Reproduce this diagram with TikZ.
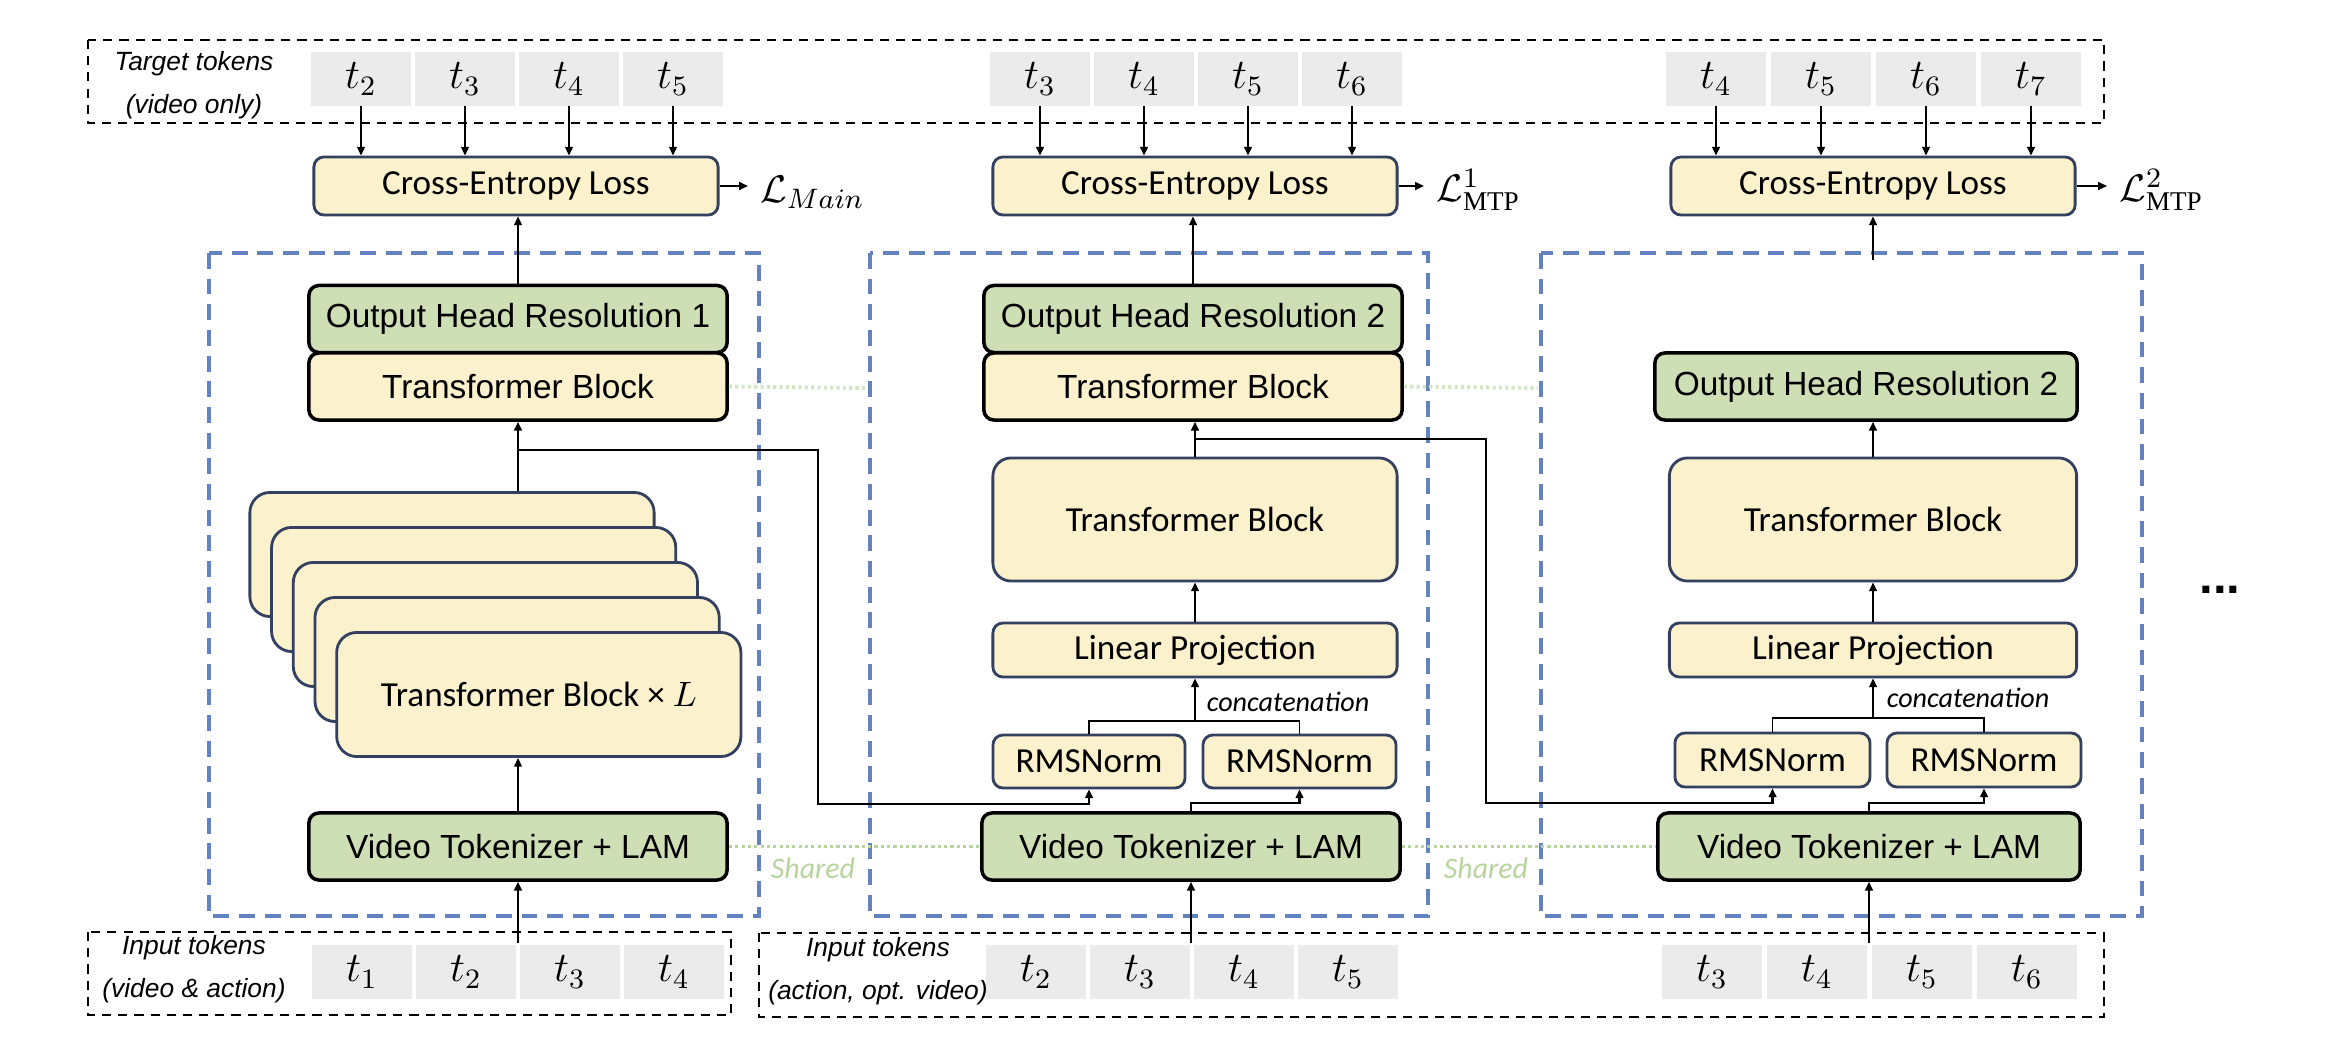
\documentclass[tikz,border=0pt]{standalone}
\usepackage{fontspec}
\setmainfont{Liberation Sans}
\setmathrm{Liberation Serif}
\newfontfamily\calib{Carlito}
\usetikzlibrary{arrows.meta}

\definecolor{boxyellow}{RGB}{251,241,204}
\definecolor{boxgreen}{RGB}{206,223,182}
\definecolor{boxnavy}{RGB}{52,64,96}
\definecolor{tokgray}{RGB}{235,235,235}
\definecolor{dashblue}{RGB}{98,130,192}
\definecolor{sharegreen}{RGB}{183,212,158}

\begin{document}
\begin{tikzpicture}[x=0.01cm,y=-0.01cm,
    arr/.style={-{Triangle[length=2.5pt,width=2.2pt]},line width=0.6pt},
    ybox/.style={draw=boxnavy,fill=boxyellow,line width=0.8pt,rounded corners=0.1cm,inner sep=0pt,font=\calib\fontsize{10}{12}\selectfont},
    hbox/.style={draw=black,line width=1pt,rounded corners=0.1cm,inner sep=0pt,minimum width=4.18cm,minimum height=0.67cm,font=\fontsize{9.5}{11}\selectfont},
    tok/.style={fill=tokgray,minimum width=1cm,minimum height=0.53cm,inner sep=0pt,font=\fontsize{11.5}{13}\selectfont},
    frame/.style={draw=dashblue,line width=1.1pt,dash pattern=on 4.5pt off 2.8pt},
    tokframe/.style={draw=black,line width=0.7pt,dash pattern=on 2.6pt off 2pt},
    lbl/.style={align=center,font=\itshape\fontsize{7.5}{12.2}\selectfont},
    shared/.style={draw=sharegreen,line width=1.1pt,dash pattern=on 0.9pt off 0.9pt},
    loss/.style={anchor=west,font=\fontsize{11}{13}\selectfont}]
\useasboundingbox (0,0) rectangle (2342,1058);

% target tokens
\draw[tokframe] (88,40) rectangle (2104,123);
\node[lbl] (tgtlbl) at (194,85) {Target tokens\\(video only)};
    \node[tok] (ta1) at (361,79) {$t_2$};
    \node[tok] (ta2) at (465,79) {$t_3$};
    \node[tok] (ta3) at (569,79) {$t_4$};
    \node[tok] (ta4) at (673,79) {$t_5$};

    \node[tok] (tb1) at (1040,79) {$t_3$};
    \node[tok] (tb2) at (1144,79) {$t_4$};
    \node[tok] (tb3) at (1248,79) {$t_5$};
    \node[tok] (tb4) at (1352,79) {$t_6$};

    \node[tok] (tc1) at (1716,79) {$t_4$};
    \node[tok] (tc2) at (1821,79) {$t_5$};
    \node[tok] (tc3) at (1926,79) {$t_6$};
    \node[tok] (tc4) at (2031,79) {$t_7$};

% losses
\node[ybox,minimum width=4.04cm,minimum height=0.58cm] (ce1) at (516,186) {Cross-Entropy Loss};
\node[ybox,minimum width=4.04cm,minimum height=0.58cm] (ce2) at (1195,186) {Cross-Entropy Loss};
\node[ybox,minimum width=4.04cm,minimum height=0.58cm] (ce3) at (1873,186) {Cross-Entropy Loss};
\node[loss] (lmain) at (748,192) {$\mathcal{L}_{Main}$};
\node[loss] (lmtp1) at (1424,190) {$\mathcal{L}^{1}_{\mathrm{MTP}}$};
\node[loss] (lmtp2) at (2107,190) {$\mathcal{L}^{2}_{\mathrm{MTP}}$};

% modules
\draw[frame] (209,253) rectangle (759,916);
\draw[frame] (870,253) rectangle (1428,916);
\draw[frame] (1541,253) rectangle (2142,916);

\node[hbox,fill=boxgreen] (ohr1) at (518,319) {Output Head Resolution 1};
\node[hbox,fill=boxyellow] (tbs1) at (518,386.5) {Transformer Block};
    \node[ybox,rounded corners=0.2cm,minimum width=4.04cm,minimum height=1.24cm] (stk1) at (452,554.5) {};
    \node[ybox,rounded corners=0.2cm,minimum width=4.04cm,minimum height=1.24cm] (stk2) at (473.7,589.5) {};
    \node[ybox,rounded corners=0.2cm,minimum width=4.04cm,minimum height=1.24cm] (stk3) at (495.4,624.5) {};
    \node[ybox,rounded corners=0.2cm,minimum width=4.04cm,minimum height=1.24cm] (stk4) at (517.1,659.5) {};
    \node[ybox,rounded corners=0.2cm,minimum width=4.04cm,minimum height=1.24cm] (stkL) at (538.8,694.5) {Transformer Block × $L$};
\node[hbox,fill=boxgreen] (vt1) at (518,846.5) {Video Tokenizer + LAM};

\node[hbox,fill=boxgreen] (ohr2) at (1193,319) {Output Head Resolution 2};
\node[hbox,fill=boxyellow] (tbs2) at (1193,386.5) {Transformer Block};
\node[ybox,rounded corners=0.18cm,minimum width=4.04cm,minimum height=1.23cm] (tbk2) at (1195,519.5) {Transformer Block};
\node[ybox,minimum width=4.04cm,minimum height=0.54cm] (lp2) at (1195,650) {Linear Projection};
\node[ybox,minimum width=1.92cm,minimum height=0.53cm] (rms2a) at (1089,761.5) {RMSNorm};
\node[ybox,minimum width=1.93cm,minimum height=0.53cm] (rms2b) at (1299.5,761.5) {RMSNorm};
\node[hbox,fill=boxgreen] (vt2) at (1191,846.5) {Video Tokenizer + LAM};

\node[hbox,fill=boxgreen,minimum width=4.22cm] (ohr3) at (1866,386.5) {Output Head Resolution 2};
\node[ybox,rounded corners=0.18cm,minimum width=4.07cm,minimum height=1.23cm] (tbk3) at (1873,519.5) {Transformer Block};
\node[ybox,minimum width=4.07cm,minimum height=0.54cm] (lp3) at (1873,650) {Linear Projection};
\node[ybox,minimum width=1.95cm,minimum height=0.54cm] (rms3a) at (1772.5,760) {RMSNorm};
\node[ybox,minimum width=1.94cm,minimum height=0.54cm] (rms3b) at (1984,760) {RMSNorm};
\node[hbox,fill=boxgreen,minimum width=4.22cm] (vt3) at (1869,846.5) {Video Tokenizer + LAM};

\node[font=\calib\itshape\fontsize{8}{10}\selectfont] (cat2lbl) at (1288,702) {concatenation};
\node[font=\calib\itshape\fontsize{8}{10}\selectfont] (cat3lbl) at (1968,698) {concatenation};
\node[font=\calib\itshape\fontsize{8.5}{10}\selectfont,text=sharegreen] (sh1) at (813,868) {Shared};
\node[font=\calib\itshape\fontsize{8.5}{10}\selectfont,text=sharegreen] (sh2) at (1486,868) {Shared};
\node[font=\bfseries\fontsize{14}{16}\selectfont] (more) at (2220,590) {...};

% input tokens
\draw[tokframe] (88,932) rectangle (731,1015);
\draw[tokframe] (759,933) rectangle (2104,1017);
\node[lbl] (inlbl1) at (194,969) {Input tokens\\(video \& action)};
\node[lbl] (inlbl2) at (878,971) {Input tokens\\(action, opt. video)};
    \node[tok] (ia1) at (362,972) {$t_1$};
    \node[tok] (ia2) at (466,972) {$t_2$};
    \node[tok] (ia3) at (570,972) {$t_3$};
    \node[tok] (ia4) at (674,972) {$t_4$};

    \node[tok] (ib1) at (1036,972) {$t_2$};
    \node[tok] (ib2) at (1140,972) {$t_3$};
    \node[tok] (ib3) at (1244,972) {$t_4$};
    \node[tok] (ib4) at (1348,972) {$t_5$};

    \node[tok] (ic1) at (1712,972) {$t_3$};
    \node[tok] (ic2) at (1817,972) {$t_4$};
    \node[tok] (ic3) at (1922,972) {$t_5$};
    \node[tok] (ic4) at (2027,972) {$t_6$};

% connections
\draw[arr] (ta1.south) -- (ta1.south |- ce1.north);
\draw[arr] (ta2.south) -- (ta2.south |- ce1.north);
\draw[arr] (ta3.south) -- (ta3.south |- ce1.north);
\draw[arr] (ta4.south) -- (ta4.south |- ce1.north);
\draw[arr] (tb1.south) -- (tb1.south |- ce2.north);
\draw[arr] (tb2.south) -- (tb2.south |- ce2.north);
\draw[arr] (tb3.south) -- (tb3.south |- ce2.north);
\draw[arr] (tb4.south) -- (tb4.south |- ce2.north);
\draw[arr] (tc1.south) -- (tc1.south |- ce3.north);
\draw[arr] (tc2.south) -- (tc2.south |- ce3.north);
\draw[arr] (tc3.south) -- (tc3.south |- ce3.north);
\draw[arr] (tc4.south) -- (tc4.south |- ce3.north);

\draw[arr] (ce1.east) -- (ce1.east -| lmain.west);
\draw[arr] (ce2.east) -- (ce2.east -| lmtp1.west);
\draw[arr] (ce3.east) -- (ce3.east -| lmtp2.west);

\draw[arr] (ohr1.north) -- (ohr1.north |- ce1.south);
\draw[arr] (stk1.north -| tbs1.south) -- (tbs1.south);
\draw[arr] (vt1.north) -- (vt1.north |- stkL.south);
\coordinate (in1) at (518,943);
\draw[arr] (in1) -- (vt1.south);

\draw[arr] (ohr2.north) -- (ohr2.north |- ce2.south);
\draw[arr] (tbk2.north) -- (tbk2.north |- tbs2.south);
\draw[arr] (lp2.north) -- (tbk2.south);
\coordinate (cat2) at (1195,721);
\draw (rms2a.north) |- (cat2) -| (rms2b.north);
\draw[arr] (cat2) -- (lp2.south);
\coordinate (br2) at (1299.5,803);
\draw[arr] (vt2.north) |- (br2) -- (rms2b.south);
\coordinate (in2) at (1191,943);
\draw[arr] (in2) -- (vt2.south);

\coordinate (up3) at (1873,260);
\draw[arr] (up3) -- (up3 |- ce3.south);
\draw[arr] (tbk3.north) -- (tbk3.north |- ohr3.south);
\draw[arr] (lp3.north) -- (tbk3.south);
\coordinate (cat3) at (1873,718);
\draw (rms3a.north) |- (cat3) -| (rms3b.north);
\draw[arr] (cat3) -- (lp3.south);
\coordinate (br3) at (1984,803);
\draw[arr] (vt3.north) |- (br3) -- (rms3b.south);
\coordinate (in3) at (1869,943);
\draw[arr] (in3) -- (vt3.south);

% skip paths
\coordinate (j1) at (518,450);
\coordinate (sk1) at (818,804);
\draw[line width=0.8pt,-{Triangle[length=2.5pt,width=2.2pt]}] (j1) -| (sk1) -| (rms2a.south);
\coordinate (j2) at (1195,439);
\coordinate (sk2) at (1486,803);
\draw[line width=0.8pt,-{Triangle[length=2.5pt,width=2.2pt]}] (j2) -| (sk2) -| (rms3a.south);

% shared weights
\coordinate (d1) at (865,388);
\coordinate (d2) at (1538,388);
\draw[shared,draw=sharegreen!60] (tbs1.east) -- (d1);
\draw[shared,draw=sharegreen!60] (tbs2.east) -- (d2);
\draw[shared] (vt1.east) -- (vt2.west);
\draw[shared] (vt2.east) -- (vt3.west);
\end{tikzpicture}
\end{document}
